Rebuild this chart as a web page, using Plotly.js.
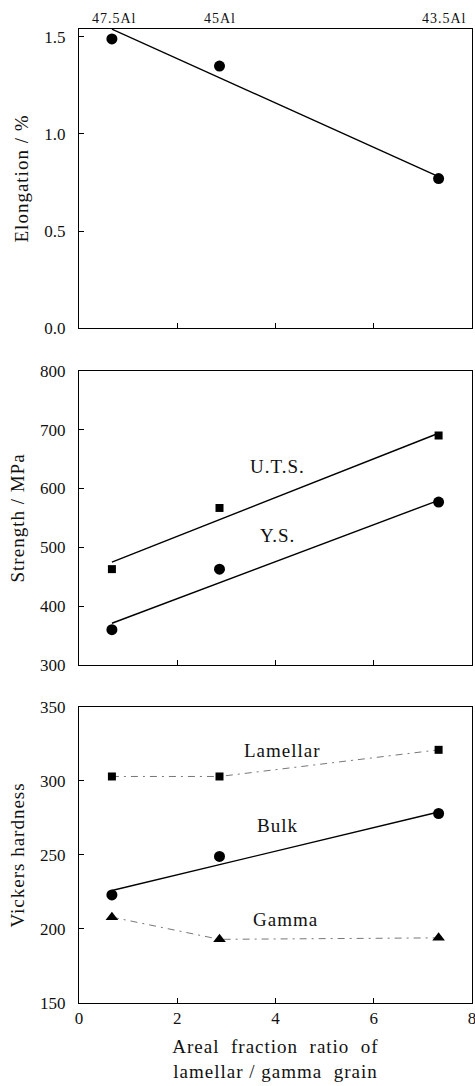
<!DOCTYPE html>
<html>
<head>
<meta charset="utf-8">
<script src="https://cdn.plot.ly/plotly-3.0.1.min.js"></script>
<style>
  html, body { margin: 0; padding: 0; background: #fff; }
  #chart { width: 475px; height: 1086px; }
  text.xtitle, text.x3title, text.ytitle, text.y2title, text.y3title, text.annotation-text { letter-spacing: 1px; }
</style>
</head>
<body>
<div id="chart"></div>
<script>
// Areal fraction ratio of lamellar / gamma grain for the three alloys
const ratio = [0.67, 2.86, 7.32];
const alloyLabels = ['47.5Al', '45Al', '43.5Al'];
const alloyLabelPos = [0.72, 2.87, 7.45];

// Elongation (%) and its trend line end values
const elongation = [1.49, 1.35, 0.77];
const elongationFit = [1.54, 0.78];

// Strength (MPa)
const uts = [463, 567, 690];
const utsFit = [475, 694];
const ys = [360, 463, 577];
const ysFit = [371, 580];

// Vickers hardness
const hvLamellar = [303, 303, 321];
const hvBulk = [223, 249, 278];
const hvBulkFit = [226, 279];
const hvGamma = [208, 193, 194];

const fitX = [ratio[0], ratio[2]];
const FONT = '"Liberation Serif", "DejaVu Serif", serif';

const markerCircle = {symbol: 'circle', size: 11, color: '#000'};
const markerSquare = {symbol: 'square', size: 8, color: '#000'};
const markerTri = {symbol: 'triangle-up', size: 11, color: '#000'};
const solid = {color: '#000', width: 1.4};
const dashed = {color: '#777', width: 1, dash: '7px,5px,2px,5px'};

const traces = [
  // elongation
  {x: fitX, y: elongationFit, xaxis: 'x', yaxis: 'y', mode: 'lines', line: solid},
  {x: ratio, y: elongation, xaxis: 'x', yaxis: 'y', mode: 'markers', marker: markerCircle},
  // strength
  {x: fitX, y: utsFit, xaxis: 'x2', yaxis: 'y2', mode: 'lines', line: solid},
  {x: fitX, y: ysFit, xaxis: 'x2', yaxis: 'y2', mode: 'lines', line: solid},
  {x: ratio, y: uts, xaxis: 'x2', yaxis: 'y2', mode: 'markers', marker: markerSquare},
  {x: ratio, y: ys, xaxis: 'x2', yaxis: 'y2', mode: 'markers', marker: markerCircle},
  // hardness
  {x: ratio, y: hvLamellar, xaxis: 'x3', yaxis: 'y3', mode: 'lines+markers', line: dashed, marker: markerSquare},
  {x: fitX, y: hvBulkFit, xaxis: 'x3', yaxis: 'y3', mode: 'lines', line: solid},
  {x: ratio, y: hvBulk, xaxis: 'x3', yaxis: 'y3', mode: 'markers', marker: markerCircle},
  {x: ratio, y: hvGamma, xaxis: 'x3', yaxis: 'y3', mode: 'lines+markers', line: dashed, marker: markerTri}
];

const tickFont = {family: FONT, size: 17, color: '#111'};
const titleFont = {family: FONT, size: 19, color: '#111'};

function xAxis(anchor, showLabels) {
  return {
    anchor: anchor, range: [0, 8], tickvals: [0, 2, 4, 6, 8],
    showticklabels: showLabels, ticks: 'inside', ticklen: 5, tickcolor: '#000',
    ticklabeloverflow: 'allow',
    showline: true, linecolor: '#000', linewidth: 1, mirror: true,
    showgrid: false, zeroline: false, tickfont: tickFont, fixedrange: true
  };
}
function yAxis(anchor, domain, range, vals, text, title) {
  return {
    anchor: anchor, domain: domain, range: range, tickvals: vals, ticktext: text,
    ticks: 'inside', ticklen: 5, tickcolor: '#000', ticklabelstandoff: 9,
    showline: true, linecolor: '#000', linewidth: 1, mirror: true,
    showgrid: false, zeroline: false, tickfont: tickFont,
    title: {text: title, font: titleFont, standoff: 10}
  };
}

const labelFont = {family: FONT, size: 19, color: '#111'};
function label(text, xref, yref, x, y) {
  return {text: text, xref: xref, yref: yref, x: x, y: y, showarrow: false, font: labelFont};
}

// alloy compositions written above the elongation panel
const alloyNotes = alloyLabels.map((t, i) => ({
  text: t, xref: 'x', yref: 'paper', x: alloyLabelPos[i], y: 1, yanchor: 'bottom', yshift: 1,
  showarrow: false, font: {family: FONT, size: 14, color: '#111'}
}));

const layout = {
  width: 475, height: 1086,
  margin: {l: 79, r: 3, t: 29, b: 83},
  paper_bgcolor: '#fff', plot_bgcolor: '#fff',
  showlegend: false,
  xaxis: xAxis('y', false),
  xaxis2: xAxis('y2', false),
  xaxis3: Object.assign(xAxis('y3', true), {
    title: {text: 'Areal  fraction  ratio  of<br>lamellar / gamma  grain', font: titleFont, standoff: 12}
  }),
  yaxis: yAxis('x', [0.693, 1.0], [0, 1.541], [0, 0.5, 1.0, 1.5], ['0.0', '0.5', '1.0', '1.5'], 'Elongation / %'),
  yaxis2: yAxis('x2', [0.347, 0.649], [300, 800], [300, 400, 500, 600, 700, 800], null, 'Strength / MPa'),
  yaxis3: yAxis('x3', [0, 0.304], [150, 350], [150, 200, 250, 300, 350], null, 'Vickers hardness'),
  annotations: alloyNotes.concat([
    label('U.T.S.', 'x2', 'y2', 4.05, 637),
    label('Y.S.', 'x2', 'y2', 4.05, 520),
    label('Lamellar', 'x3', 'y3', 4.15, 320.5),
    label('Bulk', 'x3', 'y3', 4.05, 270),
    label('Gamma', 'x3', 'y3', 4.2, 206.5)
  ])
};

Plotly.newPlot('chart', traces, layout, {displayModeBar: false, staticPlot: true});
</script>
</body>
</html>
